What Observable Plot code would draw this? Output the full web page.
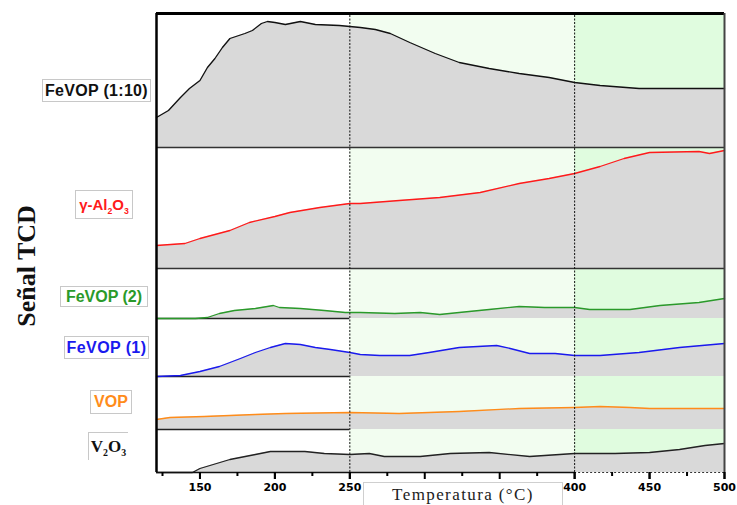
<!DOCTYPE html>
<html><head><meta charset="utf-8">
<script src="https://cdn.jsdelivr.net/npm/d3@7"></script>
<script src="https://cdn.jsdelivr.net/npm/@observablehq/plot@0.6"></script>
<style>
body{margin:0;background:#fff;}
#wrap{position:relative;width:737px;height:505px;overflow:hidden;background:#fff;}
.lab{position:absolute;background:#fff;border:1px solid #c8c8c8;box-sizing:border-box;display:flex;align-items:center;justify-content:center;font-family:"Liberation Sans",Arial,sans-serif;font-weight:bold;font-size:16px;white-space:nowrap;}
.lab sub{font-size:58%;vertical-align:-0.45em;line-height:0;}
#ylab{position:absolute;left:27px;top:266px;transform:translate(-50%,-50%) rotate(-90deg);font-family:"Liberation Serif","Times New Roman",serif;font-weight:bold;font-size:26px;white-space:nowrap;color:#111;}
#xlab{position:absolute;left:363px;top:482px;width:200px;height:30px;background:#fff;border:1px solid #cfcfcf;box-sizing:border-box;font-family:"Liberation Serif","Times New Roman",serif;font-size:17px;letter-spacing:1.4px;color:#222;text-align:center;padding-top:2px;}
</style></head><body><div id="wrap"></div>
<script>
// ---- data (temperature °C, signal per panel) ----
const seriesNames = ["FeVOP (1:10)", "γ-Al2O3", "FeVOP (2)", "FeVOP (1)", "VOP", "V2O3"];
const seriesColors = ["#111111", "#ff1a1a", "#2a9a2a", "#1a1aee", "#ff8c1a", "#222222"];
// stacking offsets of each panel (baseline / top) in signal units
const panelBase = [325, 204, 154, 96, 43, 0];
const panelTop = [459, 325, 204, 154, 96, 43];

const tFeVOP110 = [121,129,137,143,150,155,160,165,170,180,185,191,195,200,207,217,227,243,250,257,267,277,290,307,323,343,363,383,400,417,443,500];
const vFeVOP110 = [30,37,50,59,67,80,89,100,109,114,117,124,126,125,123,126,123,122,121,120,118,114,105,94,85,79,74,70,65,62,59,59];

const tAl2O3 = [121,140,150,170,183,200,210,230,250,257,283,310,337,363,383,400,417,433,450,483,490,500];
const vAl2O3 = [23,25,30,38,46,52,56,61,65,65,68,71,76,85,90,95,102,110,116,117,115,118];

const tFeVOP2 = [121,147,155,163,173,187,199,203,217,233,247,257,280,297,310,323,343,363,380,400,410,437,457,483,500];
const vFeVOP2 = [0,0,1,5,8,10,13,11,10,8,6,6,5,6,4,6,9,12,11,11,9,9,13,16,20];

const tFeVOP1 = [121,137,150,163,177,187,197,207,217,227,237,250,257,270,290,303,323,348,357,370,387,400,417,443,470,500];
const vFeVOP1 = [0,1,5,10,18,24,29,33,32,29,27,24,22,21,21,24,29,31,28,23,23,21,21,24,29,33];

const tVOP = [121,130,153,187,207,250,283,323,363,400,417,437,450,500];
const vVOP = [10,12,13,15,16,17,16,18,21,22,23,22,21,21];

const tV2O3 = [121,145,150,170,187,197,220,233,250,263,273,297,317,343,370,400,427,450,470,487,500];
const vV2O3 = [0,0,4,13,18,21,21,19,18,19,16,16,19,20,16,19,19,20,23,27,29];

const xDomain = [121, 500];
const majorTicks = [150,200,250,300,350,400,450,500];
// labels 300 and 350 are hidden behind the axis-title box in the reference
const labeledTicks = [150,200,250,400,450,500];
const minorTicks = [125,175,225,275,325,375,425,475];
const zones = [
  {x1: 121, x2: 250, fill: "#ffffff"},
  {x1: 250, x2: 400, fill: "#f2fdf0"},
  {x1: 400, x2: 500, fill: "#e0fcdf"}
];
const zoneLines = [250, 400];

// ---- build ----
const temps = [tFeVOP110, tAl2O3, tFeVOP2, tFeVOP1, tVOP, tV2O3];
const vals = [vFeVOP110, vAl2O3, vFeVOP2, vFeVOP1, vVOP, vV2O3];
const series = seriesNames.map((name, i) => ({
  name, color: seriesColors[i], base: panelBase[i],
  rows: temps[i].map((T, j) => ({T, v: vals[i][j], y: panelBase[i] + vals[i][j]}))
}));

const marks = [];
zones.forEach(z => marks.push(Plot.rect([z], {x1: "x1", x2: "x2", y1: panelBase[5], y2: panelTop[0], fill: z.fill})));
series.forEach(s => marks.push(Plot.areaY(s.rows, {x: "T", y1: s.base, y2: "y", fill: "#d9d9d9"})));
// separators
marks.push(Plot.ruleY([panelBase[0], panelBase[1]], {x1: xDomain[0], x2: xDomain[1], stroke: "#333", strokeWidth: 1.5}));
marks.push(Plot.ruleY([panelBase[2], panelBase[3], panelBase[4]], {x1: xDomain[0], x2: zoneLines[0], stroke: "#222", strokeWidth: 1.5}));
// curves
series.forEach(s => marks.push(Plot.line(s.rows, {x: "T", y: "y", stroke: s.color, strokeWidth: 1.3})));
// zone dotted lines
marks.push(Plot.ruleX(zoneLines, {y1: panelBase[5], y2: panelTop[0], stroke: "#111", strokeWidth: 1, strokeDasharray: "2,1.5"}));
// frame
marks.push(Plot.ruleY([panelTop[0]], {x1: xDomain[0], x2: xDomain[1], stroke: "#000", strokeWidth: 3}));
marks.push(Plot.ruleX([xDomain[0]], {y1: panelBase[5], y2: panelTop[0], stroke: "#000", strokeWidth: 2.5}));
marks.push(Plot.ruleX([xDomain[1]], {y1: panelBase[5], y2: panelTop[0], stroke: "#444", strokeWidth: 2}));
marks.push(Plot.ruleY([panelBase[5]], {x1: xDomain[0], x2: zoneLines[1], stroke: "#111", strokeWidth: 1.5}));
marks.push(Plot.ruleY([panelBase[5]], {x1: zoneLines[1], x2: xDomain[1], stroke: "#333", strokeWidth: 1.2, strokeDasharray: "2,2"}));
// axes
marks.push(Plot.axisX({anchor: "bottom", ticks: majorTicks, tickSize: 7, strokeWidth: 2, tickFormat: () => "", label: null}));
marks.push(Plot.axisX({anchor: "bottom", ticks: labeledTicks, tickSize: 7, tickPadding: 4, strokeWidth: 2, fontSize: 11, fontWeight: "bold", label: null, tickFormat: d => String(d)}));
marks.push(Plot.axisX({anchor: "bottom", ticks: minorTicks, tickSize: 4, strokeWidth: 2, tickFormat: () => "", label: null}));

const chart = Plot.plot({
  width: 737, height: 505,
  marginLeft: 156, marginRight: 13, marginTop: 13, marginBottom: 33,
  x: {domain: xDomain, axis: null},
  y: {domain: [panelBase[5], panelTop[0]], axis: null},
  style: {fontFamily: "'DejaVu Sans', sans-serif", background: "transparent", color: "#000"},
  marks
});
const wrap = document.getElementById("wrap");
wrap.appendChild(chart);

// ---- labels ----
function lab(html, left, top, w, h, color, extra) {
  const d = document.createElement("div");
  d.className = "lab";
  const span = document.createElement("span");
  span.innerHTML = html;
  d.appendChild(span);
  Object.assign(d.style, {left: left + "px", top: top + "px", width: w + "px", height: h + "px", color}, extra || {});
  wrap.appendChild(d);
}
lab("FeVOP (1:10)", 42, 79, 109, 23, "#111", {letterSpacing: "0.3px"});
lab("γ-Al<sub>2</sub>O<sub>3</sub>", 75, 190, 58, 29, seriesColors[1], {fontSize: "15px"});
lab("FeVOP (2)", 60, 286, 88, 21, seriesColors[2], {});
lab("FeVOP (1)", 64, 336, 85, 23, seriesColors[3], {letterSpacing: "0.4px"});
lab("VOP", 90, 390, 42, 24, seriesColors[4], {});
lab("V<sub>2</sub>O<sub>3</sub>", 88, 432, 40, 28, "#111", {fontFamily: "'Liberation Serif','Times New Roman',serif", fontSize: "17px", borderRight: "none", borderBottom: "none", background: "transparent"});

const yl = document.createElement("div");
yl.id = "ylab"; yl.textContent = "Señal TCD";
wrap.appendChild(yl);
const xl = document.createElement("div");
xl.id = "xlab"; xl.textContent = "Temperatura (°C)";
wrap.appendChild(xl);
</script>
</body></html>
